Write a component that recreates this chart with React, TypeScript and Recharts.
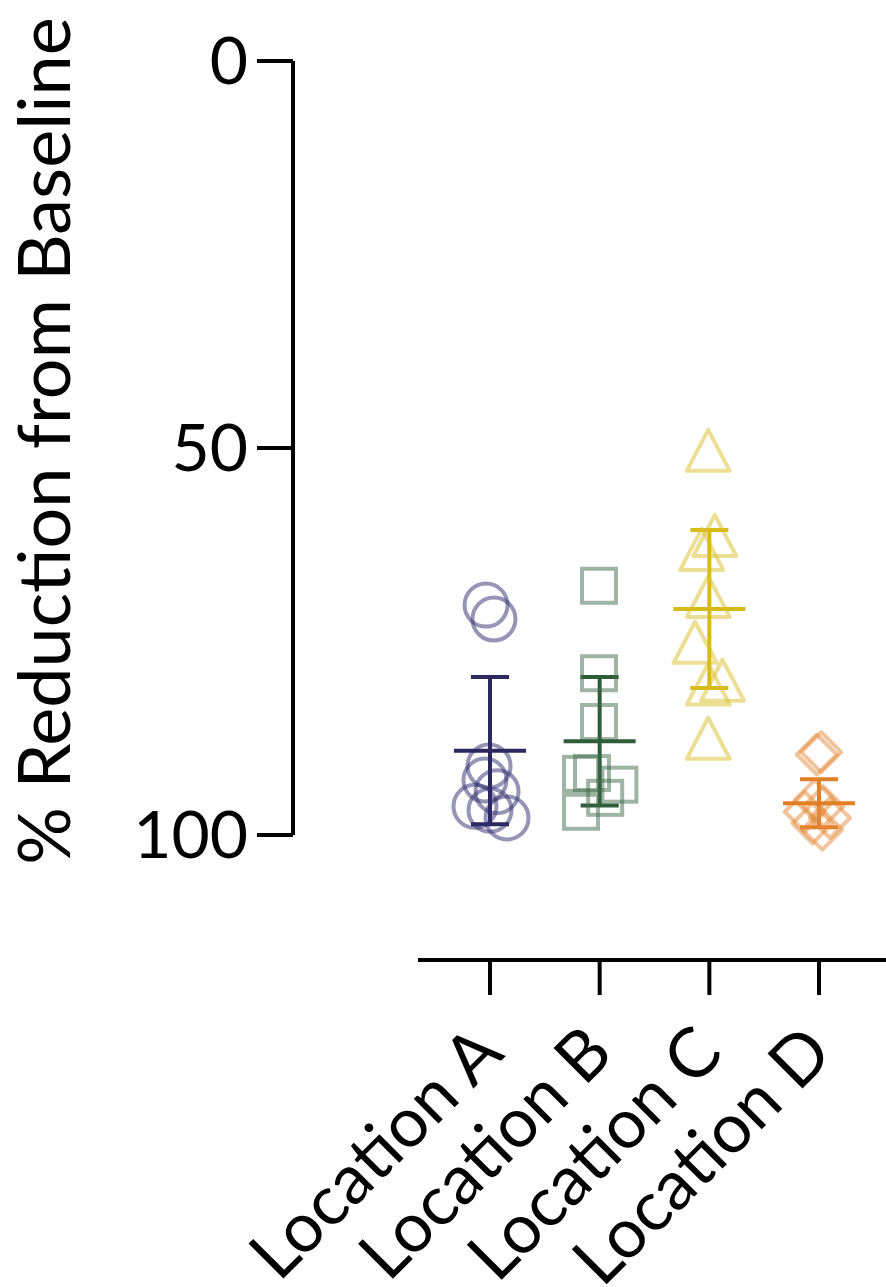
import React from 'react';
import { ScatterChart, Scatter, XAxis, YAxis, ErrorBar, ReferenceLine } from 'recharts';

// ---- data ----
const categories = ['Location A', 'Location B', 'Location C', 'Location D'];
const categoryPositions = [1, 2, 3, 4];
const yTicks = [0, 50, 100];

const locAx = [0.964, 1.036, 0.991, 0.954, 1.064, 0.863, 1.0, 1.155];
const locAy = [70.3, 72.1, 91.1, 92.9, 94.4, 96.3, 96.8, 97.8];

const locBx = [1.994, 1.994, 1.994, 1.83, 1.93, 2.18, 2.05, 1.83];
const locBy = [67.8, 79.1, 85.4, 92.1, 92.0, 93.5, 95.2, 97.0];

const locCx = [2.99, 3.05, 2.93, 2.99, 2.87, 3.12, 2.99, 2.99];
const locCy = [50.3, 61.3, 63.1, 69.2, 75.1, 80.0, 80.5, 87.5];

const locDx = [3.98, 4.02, 3.96, 4.04, 3.87, 4.1, 3.94, 4.03];
const locDy = [89.6, 89.3, 95.5, 96.3, 97.0, 97.8, 98.5, 99.3];

const means = [89.1, 87.9, 70.8, 95.9];
const sds = [9.5, 8.3, 10.2, 3.1];

// ---- styles ----
const markColors = ['#2d2b6b', '#3e6b4a', '#d9c02a', '#e5893a'];
const barColors = ['#2b2960', '#2f5d3a', '#d6bb18', '#e07f24'];
const FONT = 'Lato, "Noto Sans", sans-serif';

const X_MIN = -0.7963;
const X_MAX = 4.6108;
const X_AXIS_START = 0.3435;
const Y_MAX = 116.15;

const toPoints = (xs: number[], ys: number[]) => xs.map((x, i) => ({ x, y: ys[i] }));

const circleShape = (color: string) => (p: any) => (
  <circle cx={p.cx} cy={p.cy} r={21.5} fill="none" stroke={color} strokeOpacity={0.5} strokeWidth={4} />
);
const squareShape = (color: string) => (p: any) => (
  <rect x={p.cx - 17} y={p.cy - 17} width={34} height={34} fill="none" stroke={color} strokeOpacity={0.5} strokeWidth={4} />
);
const triangleShape = (color: string) => (p: any) => {
  const w = 43, h = 41;
  const d = `M${p.cx},${p.cy - h / 2} L${p.cx + w / 2},${p.cy + h / 2} L${p.cx - w / 2},${p.cy + h / 2} Z`;
  return <path d={d} fill="none" stroke={color} strokeOpacity={0.5} strokeWidth={4} strokeLinejoin="round" />;
};
const diamondShape = (color: string) => (p: any) => {
  const s = 20;
  const d = `M${p.cx},${p.cy - s} L${p.cx + s},${p.cy} L${p.cx},${p.cy + s} L${p.cx - s},${p.cy} Z`;
  return <path d={d} fill="none" stroke={color} strokeOpacity={0.5} strokeWidth={4} strokeLinejoin="round" />;
};
const meanShape = (color: string) => (p: any) => (
  <line x1={p.cx - 36} x2={p.cx + 36} y1={p.cy} y2={p.cy} stroke={color} strokeWidth={4} />
);

const groups = [
  { data: toPoints(locAx, locAy), shape: circleShape(markColors[0]) },
  { data: toPoints(locBx, locBy), shape: squareShape(markColors[1]) },
  { data: toPoints(locCx, locCy), shape: triangleShape(markColors[2]) },
  { data: toPoints(locDx, locDy), shape: diamondShape(markColors[3]) },
];

const XTick = (props: any) => {
  const { x, y, payload } = props;
  const ax = x + 16;
  const ay = y + 61;
  const idx = categoryPositions.indexOf(payload.value);
  return (
    <text x={ax} y={ay} transform={`rotate(-45 ${ax} ${ay})`} textAnchor="end" fontFamily={FONT} fontSize={69} fill="#000">
      {categories[idx]}
    </text>
  );
};

const YTitle = () => (
  <text x={70} y={441} transform="rotate(-90 70 441)" textAnchor="middle" fontFamily={FONT} fontSize={72} fill="#000">
    % Reduction from Baseline
  </text>
);

export default function App() {
  return (
    <div style={{ position: 'absolute', left: 0, top: 0, width: 886, height: 1287, overflow: 'hidden', background: '#fff', fontFamily: FONT }}>
      <ScatterChart width={886} height={1287} margin={{ top: 61, right: 0, bottom: 0, left: 0 }}>
        <XAxis
          type="number"
          dataKey="x"
          domain={[X_MIN, X_MAX]}
          ticks={categoryPositions}
          allowDataOverflow
          axisLine={false}
          tickLine={{ stroke: '#000', strokeWidth: 4 }}
          tickSize={35}
          tickMargin={0}
          height={327}
          interval={0}
          tick={<XTick />}
        />
        <YAxis
          type="number"
          dataKey="y"
          domain={[0, Y_MAX]}
          reversed
          ticks={yTicks}
          allowDataOverflow
          axisLine={false}
          tickLine={{ stroke: '#000', strokeWidth: 4 }}
          tickSize={36}
          tickMargin={9}
          width={293}
          interval={0}
          tick={{ fontSize: 66, fill: '#000', fontFamily: FONT }}
          label={<YTitle />}
        />
        <ReferenceLine
          segment={[{ x: X_MIN, y: 0 }, { x: X_MIN, y: 100 }]}
          stroke="#000"
          strokeWidth={4}
          ifOverflow="visible"
        />
        <ReferenceLine
          segment={[{ x: X_AXIS_START, y: Y_MAX }, { x: X_MAX, y: Y_MAX }]}
          stroke="#000"
          strokeWidth={4}
          ifOverflow="visible"
        />
        {groups.map((g, i) => (
          <Scatter key={`pts-${i}`} data={g.data} shape={g.shape} isAnimationActive={false} />
        ))}
        {means.map((m, i) => (
          <Scatter
            key={`mean-${i}`}
            data={[{ x: categoryPositions[i], y: m, err: sds[i] }]}
            shape={meanShape(barColors[i])}
            isAnimationActive={false}
          >
            <ErrorBar dataKey="err" direction="y" width={19} stroke={barColors[i]} strokeWidth={4} isAnimationActive={false} />
          </Scatter>
        ))}
      </ScatterChart>
    </div>
  );
}
